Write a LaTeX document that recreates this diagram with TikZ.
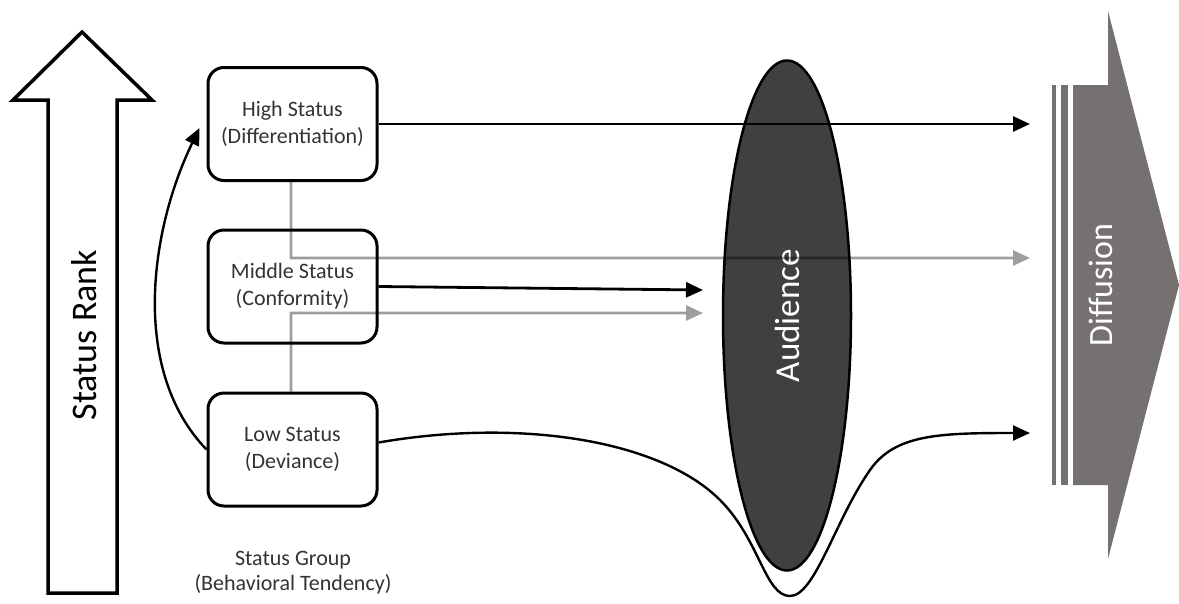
\documentclass[tikz,border=0pt]{standalone}
\usepackage{fontspec}
\setmainfont{Carlito}
\usetikzlibrary{arrows.meta,shapes.geometric}
\definecolor{audfill}{HTML}{404040}
\definecolor{difgray}{HTML}{767171}

\begin{document}
\begin{tikzpicture}[x=1pt, y=-1pt,
  statusbox/.style={draw, line width=3pt, rounded corners=16pt,
                    minimum width=169pt, minimum height=113pt, text=black!80,
                    align=center, font=\fontsize{22}{27}\selectfont},
  flow/.style={line width=2.8pt, -{Triangle[length=17pt,width=15pt]}},
  bigtext/.style={rotate=90, font=\fontsize{36}{40}\selectfont},
]
\useasboundingbox (0,0) rectangle (1179,603);

% status rank arrow
\draw[line width=3.5pt, miter limit=20] (48,593) -- (48,100) -- (13,100) -- (82,32)
  -- (152,100) -- (117,100) -- (117,593) -- cycle;
\node[bigtext] (rank) at (84,335) {Status Rank};

% diffusion arrow
\fill[difgray] (1073,85) -- (1108,85) -- (1108,11) -- (1179,285) -- (1108,559)
  -- (1108,485) -- (1073,485) -- cycle;
\fill[difgray] (1052,85) rectangle (1056,485);
\fill[difgray] (1061,85) rectangle (1068,485);
\node[bigtext, text=white, font=\fontsize{34}{40}\selectfont] (diff) at (1101,285) {Diffusion};

% audience
\node[ellipse, draw, line width=2.5pt, fill=audfill, inner sep=0pt,
      minimum width=128pt, minimum height=510pt] (aud) at (787,315.5) {};
\node[bigtext, text=white, font=\fontsize{35}{40}\selectfont] (audtext) at (aud) {Audience};

% status groups
\node[statusbox] (high) at (292.5,124) {High Status\\(Differentiation)};
\node[statusbox] (middle) at (292.5,286.5) {Middle Status\\(Conformity)};
\node[statusbox] (low) at (292.5,449.5) {Low Status\\(Deviance)};
\node[align=center, text=black!80, font=\fontsize{22}{25}\selectfont] (group) at (293,573)
  {Status Group\\(Behavioral Tendency)};

\coordinate (highend) at (1030,124);
\coordinate (grayend) at (1030,258);
\coordinate (midend) at (703,290);
\coordinate (midgrayend) at (703,313);
\coordinate (lowend) at (1030,433);

\begin{scope}[transparency group, opacity=0.38]
\draw[flow] ([xshift=-1.5pt]high.south) |- (grayend);
\draw[flow] ([xshift=-1.5pt]low.north) |- (midgrayend);
\end{scope}
\draw[flow] (high.east) -- (highend);
\draw[flow] (middle.east) -- (midend);
\draw[flow, line width=2.4pt] ([yshift=7pt]low.east) .. controls (520,418) and (660,440) .. (720,500)
  .. controls (760,540) and (765,596) .. (790,596)
  .. controls (815,596) and (835,520) .. (870,470)
  .. controls (895,434) and (940,433) .. (lowend);
\draw[flow, line width=2.4pt] (low.west) .. controls (130,370) and (150,230)
  .. ([xshift=-7pt,yshift=-4pt]high.west);
\end{tikzpicture}
\end{document}
